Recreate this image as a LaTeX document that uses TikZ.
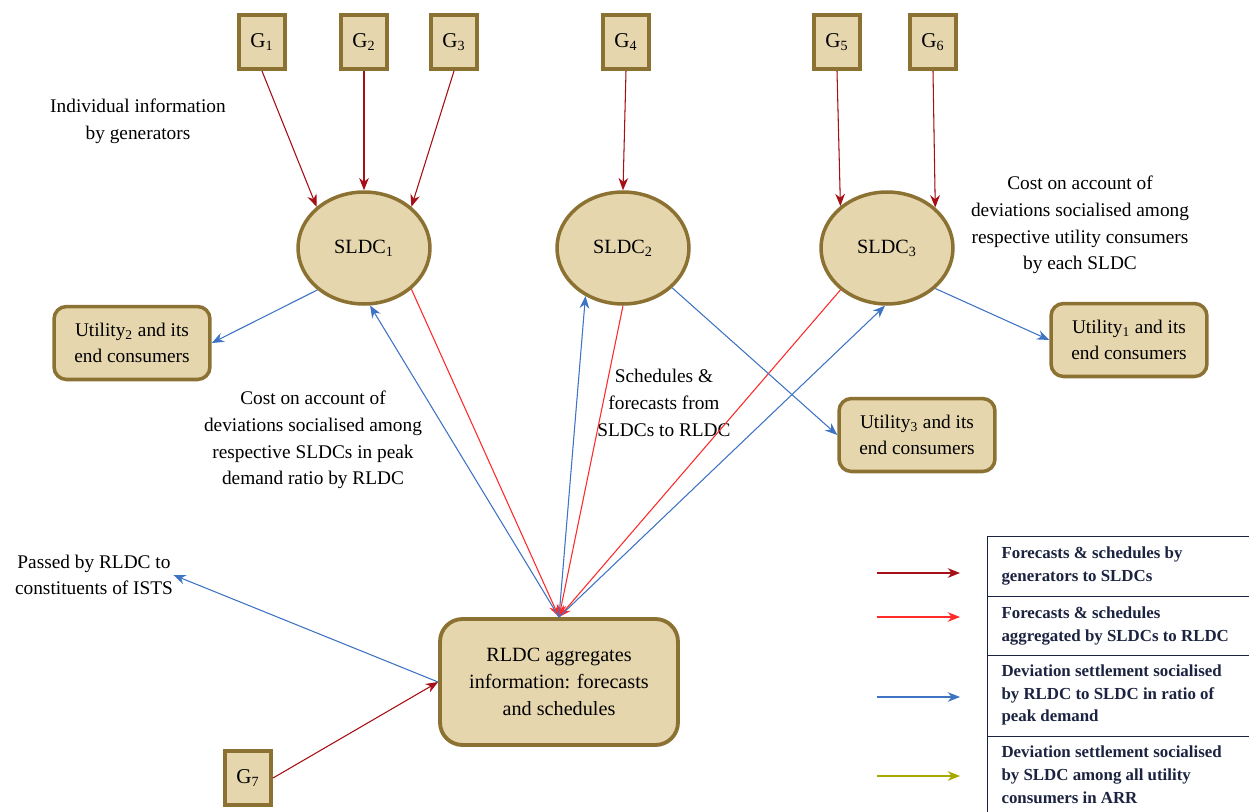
\documentclass[tikz,border=0pt]{standalone}
\usepackage{fontspec}
\setmainfont{Liberation Serif}
\usetikzlibrary{positioning,arrows.meta,shapes.geometric}

\definecolor{tanfill}{HTML}{E6D6AE}
\definecolor{tanline}{HTML}{8C7232}
\definecolor{genred}{HTML}{A50F15}
\definecolor{aggred}{HTML}{FF2A2A}
\definecolor{devblue}{HTML}{3F74C4}
\definecolor{arrolive}{HTML}{A8A800}
\definecolor{legnavy}{HTML}{1B2340}

\begin{document}
\begin{tikzpicture}[x=0.02cm,y=-0.02cm,>={Stealth[length=7pt,width=5.5pt]},semithick,
                    font=\fontsize{11}{15.2}\selectfont]
  \tikzstyle{gen}=[draw=tanline,fill=tanfill,line width=2.3pt,minimum width=0.92cm,minimum height=1.08cm,inner sep=0pt,font=\fontsize{12}{14}\selectfont]
  \tikzstyle{sldc}=[ellipse,draw=tanline,fill=tanfill,line width=2pt,minimum width=2.64cm,minimum height=2.24cm,font=\fontsize{11.5}{14}\selectfont]
  \tikzstyle{util}=[draw=tanline,fill=tanfill,line width=2pt,rounded corners=0.25cm,minimum width=3.12cm,minimum height=1.46cm,align=center]
  \tikzstyle{rldc}=[draw=tanline,fill=tanfill,line width=2.2pt,rounded corners=0.45cm,minimum width=4.76cm,minimum height=2.52cm,align=center,font=\fontsize{11.5}{15.5}\selectfont]
  \tikzstyle{note}=[align=center,inner sep=0pt]
  \tikzstyle{legtext}=[anchor=west,align=left,text=legnavy,inner sep=0pt,font=\fontsize{9.6}{13}\selectfont\bfseries]
  \tikzstyle{byGen}=[->,draw=genred,fill=genred]
  \tikzstyle{bySLDC}=[->,draw=aggred,fill=aggred]
  \tikzstyle{byRLDC}=[->,draw=devblue,fill=devblue]

  \useasboundingbox (0,0) rectangle (1249,812);

  % generators
  \node[gen] (G1) at (262,42)  {G\textsubscript{1}};
  \node[gen] (G2) at (364,42)  {G\textsubscript{2}};
  \node[gen] (G3) at (454,42)  {G\textsubscript{3}};
  \node[gen] (G4) at (626,42)  {G\textsubscript{4}};
  \node[gen] (G5) at (837,42)  {G\textsubscript{5}};
  \node[gen] (G6) at (933,42)  {G\textsubscript{6}};
  \node[gen] (G7) at (248,778) {G\textsubscript{7}};

  % load despatch centres
  \node[sldc] (S1) at (364,248) {SLDC\textsubscript{1}};
  \node[sldc] (S2) at (623,248) {SLDC\textsubscript{2}};
  \node[sldc] (S3) at (887,248) {SLDC\textsubscript{3}};
  \node[rldc] (R)  at (559,682) {RLDC aggregates\\information: forecasts\\and schedules};

  % utilities
  \node[util] (U2) at (132,343)  {Utility\textsubscript{2} and its\\end consumers};
  \node[util] (U1) at (1129,340) {Utility\textsubscript{1} and its\\end consumers};
  \node[util] (U3) at (917,435)  {Utility\textsubscript{3} and its\\end consumers};

  % notes
  \node[note] (info)   at (138,121)  {Individual information\\by generators};
  \node[note] (costS)  at (1080,225) {Cost on account of\\deviations socialised among\\respective utility consumers\\by each SLDC};
  \node[note] (costR)  at (313,440)  {Cost on account of\\deviations socialised among\\respective SLDCs in peak\\demand ratio by RLDC};
  \node[note] (sched)  at (664,403)  {Schedules \&\\forecasts from\\SLDCs to RLDC};
  \node[note] (passed) at (94,575)   {Passed by RLDC to\\constituents of ISTS};

  % generators to SLDCs
  \path (G1.south) edge[byGen] (S1.139)
        (G2.south) edge[byGen] (S1.north)
        (G3.south) edge[byGen] (S1.41)
        (G4.south) edge[byGen] (S2.north)
        (G5.south) edge[byGen] (S3.138)
        (G6.south) edge[byGen] (S3.40)
        (G7.east)  edge[byGen] (R.west);

  % SLDCs to RLDC
  \path (S1.319) edge[bySLDC] (R.north)
        (S2.south) edge[bySLDC] (R.north)
        (S3.222) edge[bySLDC] (R.north);

  % socialised deviations
  \path (R.north) edge[byRLDC] (S1.276)
                  edge[byRLDC] (S2.232)
                  edge[byRLDC] (S3.268)
        (R.west)  edge[byRLDC] (passed.east)
        (S1.222)  edge[byRLDC] (U2.east)
        (S2.321)  edge[byRLDC] (U3.west)
        (S3.320)  edge[byRLDC] (U1.west);

  % legend
  \draw[legnavy,thin] (1249,536) -- (987,536) -- (987,812)
        (987,596) -- (1249,596)
        (987,655) -- (1249,655)
        (987,736) -- (1249,736);
  \node[legtext] (L1) at (1001,566) {Forecasts \& schedules by\\generators to SLDCs};
  \node[legtext] (L2) at (1001,626) {Forecasts \& schedules\\aggregated by SLDCs to RLDC};
  \node[legtext] (L3) at (1001,695) {Deviation settlement socialised\\by RLDC to SLDC in ratio of\\peak demand};
  \node[legtext] (L4) at (1001,775) {Deviation settlement socialised\\by SLDC among all utility\\consumers in ARR};
  \coordinate (a1) at (877,573); \coordinate (b1) at (960,573);
  \coordinate (a2) at (877,617); \coordinate (b2) at (960,617);
  \coordinate (a3) at (877,697); \coordinate (b3) at (960,697);
  \coordinate (a4) at (877,776); \coordinate (b4) at (960,776);
  \path (a1) edge[byGen]  (b1)
        (a2) edge[bySLDC] (b2)
        (a3) edge[byRLDC] (b3)
        (a4) edge[->,draw=arrolive,fill=arrolive] (b4);
\end{tikzpicture}
\end{document}
